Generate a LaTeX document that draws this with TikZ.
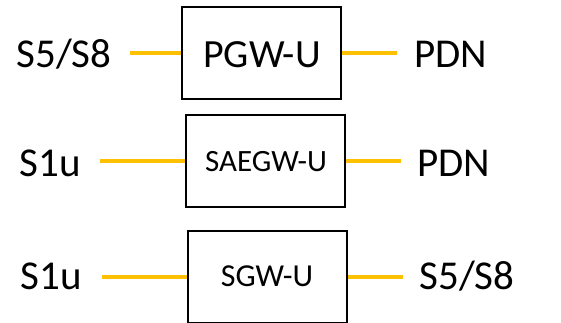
\documentclass[tikz,border=0pt]{standalone}
\usepackage{fontspec}
\setmainfont{Carlito}
\begin{document}
\begin{tikzpicture}[x=1pt,y=-1pt,
  gw/.style={draw=black,line width=2pt,minimum width=159pt,minimum height=92pt,inner sep=0pt},
  iface/.style={inner sep=0pt,anchor=base,font=\fontsize{41}{41}\selectfont},
  link/.style={draw={rgb,255:red,255;green,192;blue,0},line width=4pt}]
\useasboundingbox (0,0) rectangle (561,322);
\clip (0,0) rectangle (561,322);
% gateway boxes
\node[gw] (pgw) at (261.5,53) {};
\node[gw] (saegw) at (265.5,161) {};
\node[gw] (sgw) at (267.5,276.5) {};
\node[inner sep=0pt,anchor=base,font=\fontsize{40}{40}\selectfont] (pgwt) at (262,67) {PGW-U};
\node[inner sep=0pt,anchor=base,font=\fontsize{31}{31}\selectfont] (saegwt) at (266,171) {SAEGW-U};
\node[inner sep=0pt,anchor=base,font=\fontsize{32}{32}\selectfont] (sgwt) at (267,286) {SGW-U};
% interface labels
\node[iface] (l1) at (64,67) {S5/S8};
\node[iface] (r1) at (450.5,67) {PDN};
\node[iface] (l2) at (50.5,176) {S1u};
\node[iface] (r2) at (454,176) {PDN};
\node[iface] (l3) at (51.5,289) {S1u};
\node[iface] (r3) at (467,289) {S5/S8};
% connector ends
\coordinate (a1) at (130,53);
\coordinate (b1) at (397,53);
\coordinate (a2) at (100,161);
\coordinate (b2) at (401,161);
\coordinate (a3) at (102,276.5);
\coordinate (b3) at (403,276.5);
\draw[link] (a1) -- (pgw.west);
\draw[link] (pgw.east) -- (b1);
\draw[link] (a2) -- (saegw.west);
\draw[link] (saegw.east) -- (b2);
\draw[link] (a3) -- (sgw.west);
\draw[link] (sgw.east) -- (b3);
\end{tikzpicture}
\end{document}
